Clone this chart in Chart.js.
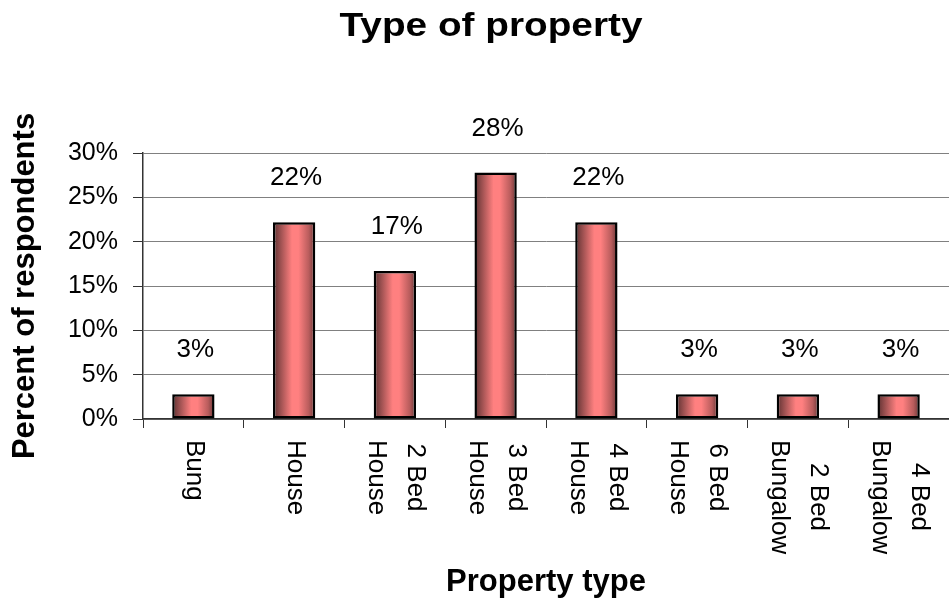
<!DOCTYPE html>
<html>
<head>
<meta charset="utf-8">
<script src="https://cdn.jsdelivr.net/npm/chart.js@4/dist/chart.umd.min.js"></script>
<style>
html, body { margin: 0; padding: 0; background: #fff; }
</style>
</head>
<body>
<canvas id="myChart" width="949" height="602"></canvas>
<script>

const chart_title = 'Type of property';
const x_title = 'Property type';
const y_title = 'Percent of respondents';

// each category is split into its wrapped lines
const categories = [
	['Bung'],
	['House'],
	['2 Bed', 'House'],
	['3 Bed', 'House'],
	['4 Bed', 'House'],
	['6 Bed', 'House'],
	['2 Bed', 'Bungalow'],
	['4 Bed', 'Bungalow'],
];

const percents = [2.8, 22.2, 16.7, 27.8, 22.2, 2.8, 2.8, 2.8];

const y_ticks = [0, 5, 10, 15, 20, 25, 30];


const font_family = '"Liberation Sans", Arial, sans-serif';
const bar_part = 0.42;


function barFill(context)
{
	const chart = context.chart;

	if (!chart.chartArea || context.dataIndex === undefined)
	{
		return '#ff8080';
	}

	const x_scale = chart.scales.x;
	const center = x_scale.getPixelForValue(context.dataIndex);
	const half = x_scale.width / categories.length * bar_part / 2;

	const grad = chart.ctx.createLinearGradient(center - half, 0, center + half, 0);
	grad.addColorStop(0, '#5c3030');
	grad.addColorStop(0.2, '#a45454');
	grad.addColorStop(0.45, '#ff8080');
	grad.addColorStop(0.6, '#ff8080');
	grad.addColorStop(0.85, '#b85c5c');
	grad.addColorStop(1, '#643535');

	return grad;
}


const title_plugin = {
	id: 'title_plugin',
	afterDraw(chart)
	{
		const ctx = chart.ctx;
		ctx.save();
		ctx.fillStyle = '#000';
		ctx.font = 'bold 34px ' + font_family;
		ctx.textAlign = 'center';
		ctx.textBaseline = 'middle';
		ctx.translate(491, 27);
		ctx.scale(1.14, 1);
		ctx.fillText(chart_title, 0, 0);
		ctx.restore();
	}
};


const labels_plugin = {
	id: 'labels_plugin',
	afterDraw(chart)
	{
		const ctx = chart.ctx;
		const x_scale = chart.scales.x;
		const meta = chart.getDatasetMeta(0);

		ctx.save();
		ctx.fillStyle = '#000';
		ctx.font = '26px ' + font_family;
		ctx.textAlign = 'center';
		ctx.textBaseline = 'middle';

		// value labels above the bars
		meta.data.forEach((bar, i) => {
			ctx.fillText(Math.round(percents[i]) + '%', bar.x + 2, bar.y - 44);
		});

		// category labels, turned clockwise and hung from the axis
		categories.forEach((lines, i) => {
			const x = x_scale.getPixelForValue(i);
			const longest = Math.max(...lines.map((line) => ctx.measureText(line).width));

			ctx.save();
			ctx.translate(x + 1, x_scale.top + 21);
			ctx.rotate(Math.PI / 2);

			lines.forEach((line, j) => {
				ctx.fillText(line, longest / 2, (j - (lines.length - 1) / 2) * 39);
			});

			ctx.restore();
		});

		ctx.restore();
	}
};


window.onload = function(){

	const canvas = document.getElementById('myChart').getContext('2d');

	new Chart(canvas, {
		type: 'bar',

		data: {
			labels: categories.map((lines) => lines.join(' ')),
			datasets: [{
				data: percents,
				backgroundColor: barFill,
				borderColor: '#000',
				borderWidth: 2.5,
				borderSkipped: false,
				categoryPercentage: 1,
				barPercentage: bar_part,
			}],
		},

		options: {
			responsive: false,
			animation: false,
			layout: {
				padding: {top: 153, left: 0, right: 0, bottom: 0},
			},
			plugins: {
				legend: {display: false},
				title: {display: false},
				tooltip: {enabled: false},
			},
			scales: {
				x: {
					offset: true,
					grid: {
						display: true,
						drawOnChartArea: false,
						drawTicks: true,
						tickLength: 9,
						tickColor: '#333',
						offset: true,
					},
					border: {color: '#333', width: 1.5},
					ticks: {display: false},
					title: {
						display: true,
						text: x_title,
						color: '#000',
						font: {family: font_family, size: 31, weight: 'bold'},
						padding: {top: 0, bottom: 1},
					},
					afterFit: (scale) => { scale.height = 183; },
				},
				y: {
					min: 0,
					max: 30,
					afterBuildTicks: (scale) => { scale.ticks = y_ticks.map((v) => ({value: v})); },
					grid: {
						color: '#808080',
						lineWidth: 1,
						drawTicks: true,
						tickLength: 10,
						tickColor: '#333',
					},
					border: {color: '#333', width: 1.5},
					ticks: {
						color: '#000',
						padding: 15,
						font: {family: font_family, size: 25},
						callback: (v) => v + '%',
					},
					title: {
						display: true,
						text: y_title,
						color: '#000',
						font: {family: font_family, size: 31, weight: 'bold'},
						padding: {top: 7, bottom: 0},
					},
					afterFit: (scale) => { scale.width = 143; },
				},
			},
		},

		plugins: [title_plugin, labels_plugin],
	});

}

</script>
</body>
</html>
